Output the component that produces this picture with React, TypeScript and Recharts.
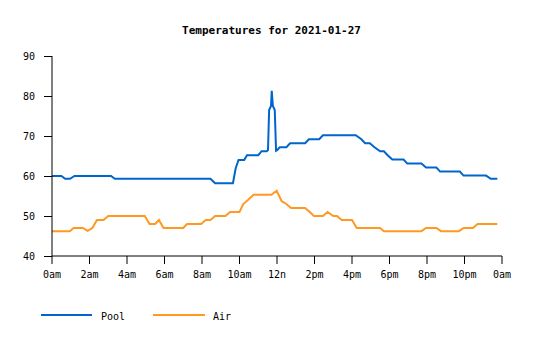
import React from "react";
import { LineChart, Line, XAxis, YAxis } from "recharts";

const title = "Temperatures for 2021-01-27";
const xTicks = [0, 2, 4, 6, 8, 10, 12, 14, 16, 18, 20, 22, 24];
const xTickLabels = ["0am", "2am", "4am", "6am", "8am", "10am", "12n", "2pm", "4pm", "6pm", "8pm", "10pm", "0am"];
const yTicks = [40, 50, 60, 70, 80, 90];

const poolHours = [0, 0.5, 0.7, 0.96, 1.2, 3.15, 3.35, 8.45, 8.7, 9.65, 9.8, 9.95, 10.25, 10.4, 11.0, 11.18, 11.45, 11.52, 11.58, 11.68, 11.72, 11.78, 11.88, 11.95, 12.02, 12.15, 12.5, 12.7, 13.5, 13.7, 14.25, 14.45, 16.2, 16.5, 16.7, 16.95, 17.2, 17.5, 17.7, 17.9, 18.15, 18.75, 18.95, 19.7, 19.95, 20.5, 20.7, 21.75, 21.95, 23.15, 23.4, 23.75];
const poolTemps = [60, 60, 59.3, 59.3, 60, 60, 59.3, 59.3, 58.2, 58.2, 62, 64, 64, 65.2, 65.2, 66.2, 66.2, 66.5, 76.5, 77.5, 81.3, 77.5, 76.5, 66.3, 66.5, 67.2, 67.2, 68.2, 68.2, 69.2, 69.2, 70.2, 70.2, 69.2, 68.2, 68.2, 67.2, 66.2, 66.2, 65.2, 64.1, 64.1, 63.1, 63.1, 62.1, 62.1, 61.1, 61.1, 60.1, 60.1, 59.3, 59.3];

const airHours = [0, 0.95, 1.15, 1.65, 1.9, 2.15, 2.4, 2.75, 3.0, 4.95, 5.2, 5.5, 5.7, 5.95, 7.0, 7.2, 7.95, 8.2, 8.45, 8.7, 9.25, 9.5, 10.0, 10.2, 10.45, 10.75, 11.7, 11.98, 12.25, 12.5, 12.75, 13.5, 13.75, 13.97, 14.45, 14.7, 15.0, 15.2, 15.45, 16.0, 16.25, 17.5, 17.7, 19.7, 19.95, 20.5, 20.75, 21.7, 21.95, 22.45, 22.7, 23.75];
const airTemps = [46.2, 46.2, 47, 47, 46.3, 47, 49, 49, 50, 50, 48, 48, 49, 47, 47, 48, 48, 49, 49, 50, 50, 51, 51, 53, 54, 55.3, 55.3, 56.3, 53.7, 53, 52, 52, 51, 50, 50, 51, 50, 50, 49, 49, 47, 47, 46.2, 46.2, 47, 47, 46.2, 46.2, 47, 47, 48, 48];

const poolData = poolHours.map((h, i) => ({ h, v: poolTemps[i] }));
const airData = airHours.map((h, i) => ({ h, v: airTemps[i] }));

const POOL = "#0066cc";
const AIR = "#ff9922";
const FONT = "'DejaVu Sans Mono', monospace";
const Y_AXIS_W = 52;
const CHAR_W = 6.02;

const YTick = (props: any) => {
  const { y, payload } = props;
  const label = String(payload.value);
  const right = Y_AXIS_W - 17;
  return (
    <g>
      <line x1={Y_AXIS_W - 8} x2={Y_AXIS_W} y1={Math.round(y) + 0.5} y2={Math.round(y) + 0.5} stroke="#000" />
      <text x={right - label.length * CHAR_W} y={y} dy="0.35em" textAnchor="start" fontFamily={FONT} fontSize={10} fill="#000">
        {label}
      </text>
    </g>
  );
};

export default function App() {
  const tickStyle = { fontFamily: FONT, fontSize: 10, fill: "#000" };
  return (
    <div style={{ position: "absolute", left: 0, top: 0, width: 535, height: 340, background: "#fff" }}>
      <div
        style={{
          position: "absolute",
          left: 0,
          width: 543,
          top: 24,
          textAlign: "center",
          fontFamily: FONT,
          fontWeight: "bold",
          fontSize: 11,
          lineHeight: "14px",
          color: "#000",
        }}
      >
        {title}
      </div>
      <LineChart width={535} height={340} data={poolData} margin={{ top: 56, right: 33, left: 0, bottom: 54 }}>
        <XAxis
          dataKey="h"
          type="number"
          domain={[0, 24]}
          ticks={xTicks}
          tickFormatter={(v: number) => xTickLabels[xTicks.indexOf(v)]}
          tick={tickStyle}
          tickSize={8}
          tickMargin={7}
          tickLine={{ stroke: "#000" }}
          stroke="#000"
          height={30}
          interval={0}
        />
        <YAxis
          type="number"
          domain={[40, 90]}
          ticks={yTicks}
          tick={<YTick />}
          tickLine={false}
          stroke="#000"
          width={Y_AXIS_W}
          interval={0}
        />
        <Line data={poolData} dataKey="v" type="linear" stroke={POOL} strokeWidth={2} dot={false} isAnimationActive={false} />
        <Line data={airData} dataKey="v" type="linear" stroke={AIR} strokeWidth={2} dot={false} isAnimationActive={false} />
      </LineChart>
      <div style={{ position: "absolute", left: 41, top: 314, width: 51, height: 2, background: POOL }} />
      <div style={{ position: "absolute", left: 101, top: 310, fontFamily: FONT, fontSize: 10, lineHeight: "14px" }}>Pool</div>
      <div style={{ position: "absolute", left: 153, top: 314, width: 52, height: 2, background: AIR }} />
      <div style={{ position: "absolute", left: 213, top: 310, fontFamily: FONT, fontSize: 10, lineHeight: "14px" }}>Air</div>
    </div>
  );
}
